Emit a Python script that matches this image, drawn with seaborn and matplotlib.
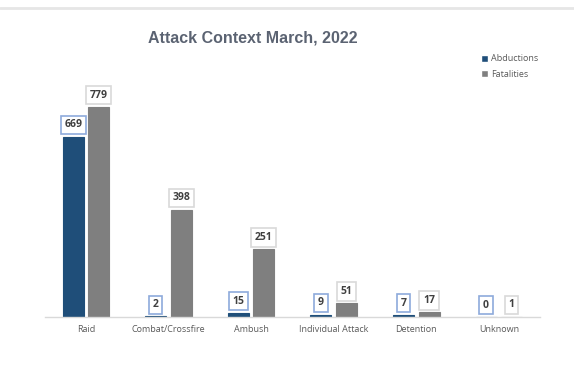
import matplotlib
matplotlib.use("Agg")
import matplotlib.pyplot as plt
import seaborn as sns
import pandas as pd
from matplotlib.patches import Patch

categories = ["Raid", "Combat/Crossfire", "Ambush", "Individual Attack", "Detention", "Unknown"]
abductions = [669, 2, 15, 9, 7, 0]
fatalities = [779, 398, 251, 51, 17, 1]
series = ["Abductions", "Fatalities"]
colors = {"Abductions": "#1f4e79", "Fatalities": "#7f7f7f"}
edge_colors = {"Abductions": "#8eaadb", "Fatalities": "#d9d9d9"}

df = pd.DataFrame({
    "Category": categories * 2,
    "Series": ["Abductions"] * len(categories) + ["Fatalities"] * len(categories),
    "Value": abductions + fatalities,
})

sns.set_theme(style="white")
plt.rcParams['font.family'] = ['Open Sans', 'DejaVu Sans']

fig = plt.figure(figsize=(5.74, 3.76), dpi=100)
ax = fig.add_axes([0.078, 0.157, 0.863, 0.63])

sns.barplot(data=df, x="Category", y="Value", hue="Series", palette=colors,
            saturation=1, width=0.62, gap=0.18, ax=ax, legend=False)

for cont, name in zip(ax.containers, series):
    for bar in cont:
        bar.set_edgecolor(colors[name])
        bar.set_linewidth(0.8)

ax.set_ylim(0, 879)
ax.set_xlim(-0.5, len(categories) - 0.5)
ax.set_xlabel("")
ax.set_ylabel("")
ax.set_yticks([])
for s in ["top", "right", "left"]:
    ax.spines[s].set_visible(False)
ax.spines["bottom"].set_color("#d9d9d9")
ax.spines["bottom"].set_linewidth(1)
ax.tick_params(axis="x", length=0, labelsize=6.5, labelcolor="#595959", pad=6)

for cont, name in zip(ax.containers, series):
    for bar in cont:
        h = bar.get_height()
        x = bar.get_x() + bar.get_width() / 2
        ax.annotate(f"{int(h)}", (x, h), xytext=(0, 4.5), textcoords="offset points",
                    ha="center", va="bottom", fontsize=7.5, fontweight="bold",
                    color="#404040",
                    bbox=dict(boxstyle="square,pad=0.35", fc="white",
                              ec=edge_colors[name], lw=1.2))

fig.text(0.44, 0.9, "Attack Context March, 2022", ha="center", va="center",
         fontsize=11.5, fontweight="bold", color="#5b6372",
         family=["Liberation Sans", "DejaVu Sans"])

handles = [Patch(facecolor=colors[s], label=s) for s in series]
fig.legend(handles=handles, loc="upper left", bbox_to_anchor=(0.823, 0.877),
           frameon=False, fontsize=6.5, handlelength=0.8, handleheight=0.8,
           handletextpad=0.4, labelspacing=0.7, labelcolor="#595959")

fig.add_artist(plt.Line2D([0, 1], [0.978, 0.978], color="#e6e6e6", lw=2,
                          transform=fig.transFigure))

fig.savefig("out.png", dpi=100, facecolor="white")
